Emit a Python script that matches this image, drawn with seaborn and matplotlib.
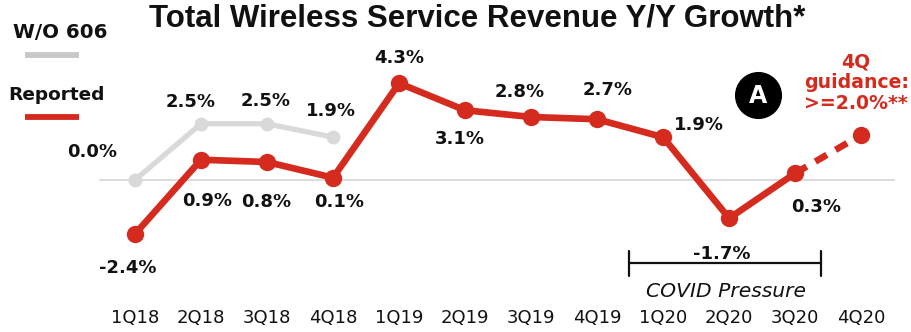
import matplotlib
matplotlib.use("Agg")
import matplotlib.pyplot as plt
import seaborn as sns
import pandas as pd
import numpy as np

quarters = ["1Q18", "2Q18", "3Q18", "4Q18", "1Q19", "2Q19", "3Q19", "4Q19",
            "1Q20", "2Q20", "3Q20", "4Q20"]
reported = [-2.4, 0.9, 0.8, 0.1, 4.3, 3.1, 2.8, 2.7, 1.9, -1.7, 0.3]
guidance_q4 = 2.0
wo606 = [0.0, 2.5, 2.5, 1.9]

RED = "#D52B1E"
GREY = "#D9D9D9"
INK = "#111111"

sns.set_theme(style="white")
plt.rcParams["font.family"] = ["DejaVu Sans"]

fig = plt.figure(figsize=(9.12, 3.32), dpi=100)
ax = fig.add_axes([0, 0, 1, 1])
ax.set_xlim(-2.045, 11.77)
ax.set_ylim(-6.756, 8.0)
ax.axis("off")

x_all = np.arange(len(quarters))
df_rep = pd.DataFrame({"x": x_all[:len(reported)], "y": reported})
df_wo = pd.DataFrame({"x": x_all[:len(wo606)], "y": wo606})
df_guid = pd.DataFrame({"x": [x_all[len(reported) - 1], x_all[len(reported)]],
                        "y": [reported[-1], guidance_q4]})

# zero baseline
ax.plot([-0.53, 11.5], [0, 0], color="#DCDCDC", lw=1.5, zorder=1)

sns.lineplot(data=df_wo, x="x", y="y", ax=ax, color=GREY, lw=3.8,
             marker="o", markersize=10, markeredgewidth=0, zorder=2)
sns.lineplot(data=df_rep, x="x", y="y", ax=ax, color=RED, lw=4.8,
             marker="o", markersize=12.5, markeredgewidth=0, zorder=3)
ax.plot(df_guid["x"], df_guid["y"], color=RED, lw=4.8, ls=(0, (2.0, 1.5)),
        zorder=3, solid_capstyle="butt")
ax.plot([x_all[len(reported)]], [guidance_q4], "o", color=RED,
        markersize=12.5, markeredgewidth=0, zorder=3)
ax.set_xlabel("")
ax.set_ylabel("")


def px(xp, yp):
    """Pixel position (top-left origin) to data coordinates."""
    return (xp - 135) / 66.0, (180 - yp) / 22.5


lab_kw = dict(fontsize=13, fontweight="bold", ha="center", va="center",
              color=INK)

rep_offsets = [(-7, 34), (6, 41), (-1, 40), (6, 24), (0, -25), (-5, 29),
               (-11, -25), (11, -29), (36, -12), (-7, 36), (21, 34)]
for i, (v, (dx, dy)) in enumerate(zip(reported, rep_offsets)):
    xp = 135 + 66 * i + dx
    yp = 180 - v * 22.5 + dy
    ax.text(*px(xp, yp), f"{v:.1f}%", **lab_kw)

wo_offsets = [(-43, -28), (-10, -22), (-1, -23), (-2, -26)]
for i, (v, (dx, dy)) in enumerate(zip(wo606, wo_offsets)):
    xp = 135 + 66 * i + dx
    yp = 180 - v * 22.5 + dy
    ax.text(*px(xp, yp), f"{v:.1f}%", **lab_kw)

# quarter labels
for i, q in enumerate(quarters):
    ax.text(*px(135 + 66 * i, 318), q, fontsize=13, ha="center", va="center",
            color=INK)

# title
ax.text(*px(477, 19), "Total Wireless Service Revenue Y/Y Growth*",
        fontsize=22.5, fontweight="bold", ha="center", va="center",
        color=INK, family="Liberation Sans")

# legend
ax.text(*px(60, 33), "W/O 606", fontsize=14.3, fontweight="bold",
        ha="center", va="center", color=INK)
ax.plot([px(25, 0)[0], px(79, 0)[0]], [px(0, 55)[1]] * 2, color="#C8C8C8",
        lw=4.2, solid_capstyle="butt")
ax.text(*px(56, 95), "Reported", fontsize=13.3, fontweight="bold",
        ha="center", va="center", color=INK)
ax.plot([px(25, 0)[0], px(79, 0)[0]], [px(0, 117)[1]] * 2, color=RED,
        lw=4.2, solid_capstyle="butt")

# guidance annotation
ax.text(*px(856, 83), "4Q\nguidance:\n>=2.0%**", fontsize=13.6,
        fontweight="bold", ha="center", va="center", color=RED,
        linespacing=1.12)

# circled badge
ax.scatter(*px(758, 95), s=1150, color="black", zorder=5, linewidths=0)
ax.text(*px(758, 96), "A", fontsize=17, fontweight="bold", ha="center",
        va="center", color="white", zorder=6)

# COVID bracket
x0, x1 = px(629, 0)[0], px(821, 0)[0]
yb = px(0, 263)[1]
ax.plot([x0, x1], [yb, yb], color=INK, lw=1.6)
for xe in (x0, x1):
    ax.plot([xe, xe], [px(0, 251)[1], px(0, 276)[1]], color=INK, lw=1.6)
ax.text(*px(726, 292), "COVID Pressure", fontsize=14.6, fontstyle="italic",
        ha="center", va="center", color=INK)

fig.savefig("out.png", dpi=100, facecolor="white")
